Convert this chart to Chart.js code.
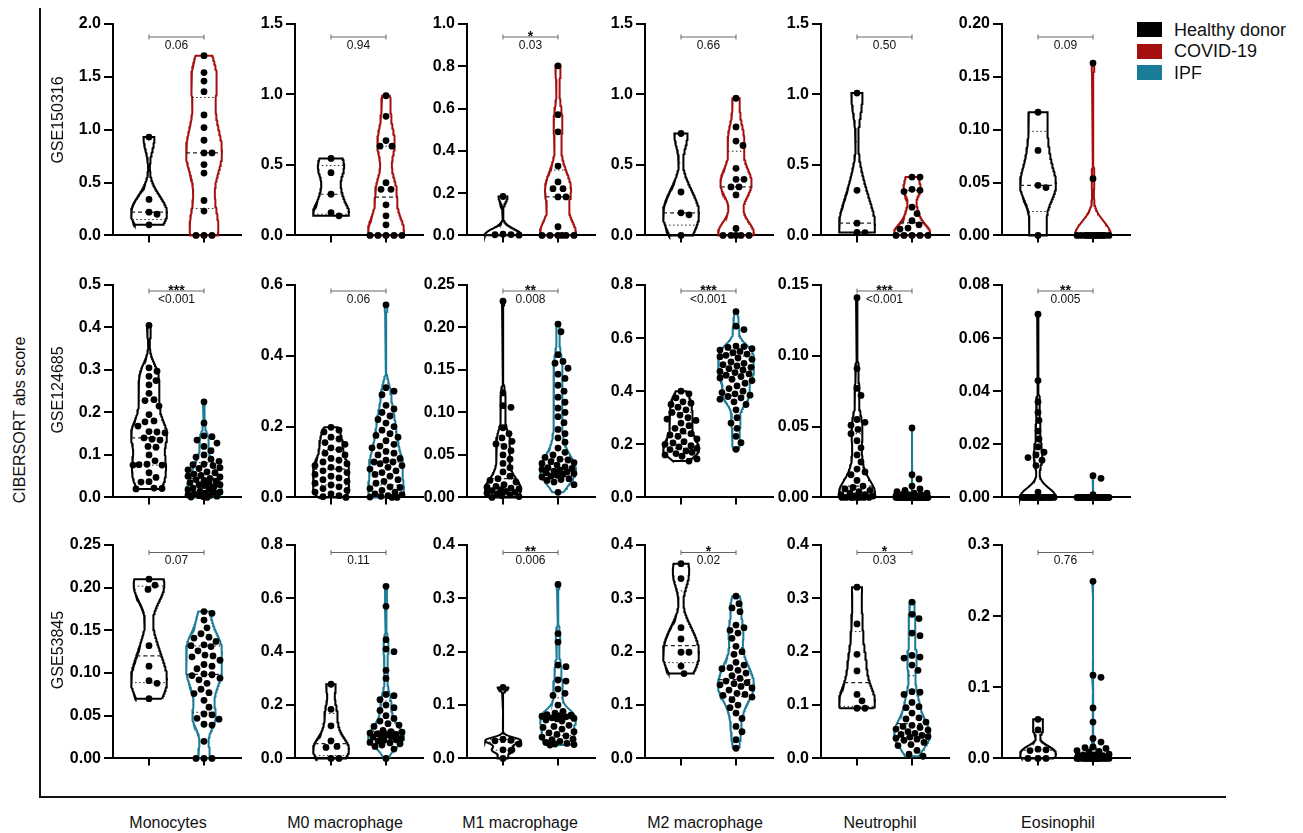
<!DOCTYPE html>
<html>
<head>
<meta charset="utf-8">
<title>CIBERSORT abs score - violin plots</title>
<script src="https://cdn.jsdelivr.net/npm/chart.js@4.4.1/dist/chart.umd.min.js"></script>
<style>
  html, body { margin: 0; padding: 0; background: #fff; }
  #page { position: relative; width: 1303px; height: 833px; overflow: hidden;
          font-family: "Liberation Sans", Arial, sans-serif; color: #111; }
  .panel { position: absolute; }
  .panel canvas { display: block; }
  .txt { position: absolute; white-space: nowrap; font-size: 16px; line-height: 18px; transform: translate(-50%, -50%); }
  .rot { transform: translate(-50%, -50%) rotate(-90deg); }
  .rule { position: absolute; background: #111; }
  .key { position: absolute; left: 1137px; width: 25px; height: 15px; }
  .keytxt { position: absolute; left: 1174px; font-size: 18px; white-space: nowrap; transform: translateY(-50%); }
</style>
</head>
<body>
<div id="page">
  <div class="rule" style="left:39px; top:8px; width:1.5px; height:790px;"></div>
  <div class="rule" style="left:39px; top:796px; width:1187px; height:1.5px;"></div>
  <div class="txt rot" style="left:20px; top:420px;">CIBERSORT abs score</div>
</div>
<script>
// ---- values ----
const CELL_TYPES = ['Monocytes', 'M0 macrophage', 'M1 macrophage', 'M2 macrophage', 'Neutrophil', 'Eosinophil'];
const COHORTS = ['GSE150316', 'GSE124685', 'GSE53845'];
const GROUP_NAMES = ['Healthy donor', 'COVID-19', 'IPF'];
const COHORT_DISEASE = [1, 2, 2];   // second violin of each row

const Y_MAX  = [[2.0, 1.5, 1.0, 1.5, 1.5, 0.20], [0.5, 0.6, 0.25, 0.8, 0.15, 0.08], [0.25, 0.8, 0.4, 0.4, 0.4, 0.3]];
const Y_STEP = [[0.5, 0.5, 0.2, 0.5, 0.5, 0.05], [0.1, 0.2, 0.05, 0.2, 0.05, 0.02], [0.05, 0.2, 0.1, 0.1, 0.1, 0.1]];
const Y_DEC  = [[1, 1, 1, 1, 1, 2], [1, 1, 2, 1, 2, 2], [2, 1, 1, 1, 1, 1]];

const P_VALUES = [['0.06', '0.94', '0.03', '0.66', '0.50', '0.09'],
                  ['<0.001', '0.06', '0.008', '<0.001', '<0.001', '0.005'],
                  ['0.07', '0.11', '0.006', '0.02', '0.03', '0.76']];
const STARS = [['', '', '*', '', '', ''],
               ['***', '', '**', '***', '***', '**'],
               ['', '', '**', '*', '*', '']];

// GSE150316: healthy donor n=5, COVID-19 n=16 (one list per cell type)
const GSE150316_HEALTHY = [
  [0.93, 0.34, 0.22, 0.20, 0.10],
  [0.546, 0.445, 0.292, 0.162, 0.139],
  [0.184, 0.006, 0.004, 0.003, 0.001],
  [0.723, 0.308, 0.160, 0.146, 0],
  [1.01, 0.32, 0.087, 0.021, 0.02],
  [0.1165, 0.0804, 0.0474, 0.0452, 0]
];
const GSE150316_COVID = [
  [1.70, 1.54, 1.46, 1.36, 1.14, 1.02, 0.90, 0.78, 0.78, 0.67, 0.59, 0.33, 0.23, 0, 0, 0],
  [0.991, 0.845, 0.673, 0.633, 0.633, 0.374, 0.327, 0.327, 0.217, 0.139, 0.075, 0, 0, 0, 0, 0],
  [0.802, 0.571, 0.49, 0.328, 0.253, 0.221, 0.221, 0.182, 0.182, 0.041, 0, 0, 0, 0, 0, 0],
  [0.973, 0.770, 0.669, 0.638, 0.476, 0.398, 0.398, 0.344, 0.344, 0.287, 0.049, 0, 0, 0, 0, 0],
  [0.414, 0.414, 0.327, 0.32, 0.311, 0.20, 0.155, 0.104, 0.075, 0.052, 0.045, 0, 0, 0, 0, 0],
  [0.163, 0.0537, 0, 0, 0, 0, 0, 0, 0, 0, 0, 0, 0, 0, 0, 0]
];
// GSE124685: healthy donor n=35, IPF n=49
const GSE124685_HEALTHY = [
  [0.405, 0.305, 0.297, 0.285, 0.275, 0.265, 0.245, 0.230, 0.228, 0.215, 0.195, 0.180, 0.178, 0.168, 0.155, 0.154, 0.152, 0.140,
   0.137, 0.135, 0.120, 0.118, 0.100, 0.086, 0.078, 0.077, 0.076, 0.076, 0.058, 0.047, 0.037, 0.036, 0.022, 0.021, 0.020],
  [0.198, 0.19, 0.185, 0.17, 0.165, 0.155, 0.15, 0.14, 0.135, 0.125, 0.12, 0.11, 0.105, 0.1, 0.095, 0.09, 0.085, 0.08,
   0.075, 0.07, 0.065, 0.06, 0.055, 0.05, 0.045, 0.04, 0.035, 0.03, 0.025, 0.02, 0.015, 0.01, 0.005, 0.002, 0],
  [0.231, 0.123, 0.108, 0.106, 0.082, 0.075, 0.07, 0.066, 0.063, 0.06, 0.055, 0.05, 0.045, 0.04, 0.035, 0.03, 0.025, 0.022,
   0.02, 0.018, 0.015, 0.013, 0.012, 0.011, 0.01, 0.009, 0.008, 0.007, 0.006, 0.005, 0.004, 0.003, 0.002, 0.001, 0],
  [0.40, 0.39, 0.375, 0.36, 0.355, 0.35, 0.34, 0.33, 0.32, 0.31, 0.30, 0.295, 0.29, 0.28, 0.27, 0.26, 0.25, 0.24,
   0.235, 0.23, 0.22, 0.21, 0.205, 0.20, 0.195, 0.19, 0.185, 0.18, 0.175, 0.17, 0.165, 0.16, 0.155, 0.145, 0.137],
  [0.141, 0.091, 0.077, 0.072, 0.055, 0.053, 0.051, 0.048, 0.045, 0.04, 0.035, 0.03, 0.025, 0.02, 0.018, 0.016, 0.012, 0.008,
   0.007, 0.006, 0.005, 0.004, 0.003, 0.002, 0.002, 0.001, 0.001, 0, 0, 0, 0, 0, 0, 0, 0],
  [0.069, 0.044, 0.036, 0.032, 0.029, 0.025, 0.022, 0.019, 0.017, 0.016, 0.015, 0.014, 0.012, 0.002,
   0, 0, 0, 0, 0, 0, 0, 0, 0, 0, 0, 0, 0, 0, 0, 0, 0, 0, 0, 0, 0]
];
const GSE124685_IPF = [
  [0.225, 0.175, 0.145, 0.143, 0.135, 0.128, 0.12, 0.11, 0.10, 0.095, 0.09, 0.085, 0.078, 0.077, 0.075, 0.07, 0.068,
   0.065, 0.06, 0.058, 0.055, 0.052, 0.05, 0.048, 0.045, 0.042, 0.04, 0.038, 0.035, 0.033, 0.03, 0.03, 0.028,
   0.025, 0.022, 0.02, 0.018, 0.015, 0.013, 0.012, 0.01, 0.008, 0.006, 0.005, 0.004, 0.003, 0.002, 0.001, 0],
  [0.544, 0.31, 0.30, 0.29, 0.26, 0.25, 0.24, 0.23, 0.22, 0.21, 0.20, 0.19, 0.18, 0.175, 0.17, 0.16, 0.15,
   0.145, 0.14, 0.13, 0.125, 0.12, 0.11, 0.105, 0.10, 0.10, 0.095, 0.09, 0.085, 0.08, 0.075, 0.07, 0.065,
   0.06, 0.05, 0.045, 0.04, 0.03, 0.028, 0.025, 0.02, 0.015, 0.01, 0.008, 0.005, 0.003, 0.001, 0, 0],
  [0.204, 0.195, 0.168, 0.16, 0.158, 0.152, 0.145, 0.14, 0.132, 0.125, 0.118, 0.112, 0.105, 0.1, 0.095, 0.088, 0.08,
   0.075, 0.07, 0.065, 0.058, 0.053, 0.05, 0.047, 0.045, 0.044, 0.042, 0.041, 0.04, 0.038, 0.036, 0.035, 0.034,
   0.033, 0.032, 0.031, 0.03, 0.029, 0.028, 0.027, 0.026, 0.025, 0.024, 0.022, 0.021, 0.02, 0.018, 0.015, 0.006],
  [0.70, 0.645, 0.632, 0.57, 0.568, 0.565, 0.56, 0.555, 0.55, 0.545, 0.54, 0.535, 0.53, 0.525, 0.52, 0.51, 0.505,
   0.5, 0.495, 0.49, 0.485, 0.48, 0.475, 0.47, 0.465, 0.46, 0.455, 0.45, 0.445, 0.44, 0.43, 0.42, 0.41,
   0.4, 0.395, 0.39, 0.385, 0.38, 0.375, 0.37, 0.36, 0.35, 0.33, 0.3, 0.28, 0.26, 0.23, 0.206, 0.181],
  [0.049, 0.016, 0.013, 0.008, 0.006, 0.005, 0.004, 0.003, 0.003, 0.002, 0.002, 0.002, 0.001, 0.001, 0.001, 0.001, 0.001,
   0, 0, 0, 0, 0, 0, 0, 0, 0, 0, 0, 0, 0, 0, 0, 0, 0, 0, 0, 0, 0, 0, 0, 0, 0, 0, 0, 0, 0, 0, 0, 0],
  [0.0082, 0.0072, 0.001, 0, 0, 0, 0, 0, 0, 0, 0, 0, 0, 0, 0, 0, 0, 0, 0, 0, 0, 0, 0, 0, 0,
   0, 0, 0, 0, 0, 0, 0, 0, 0, 0, 0, 0, 0, 0, 0, 0, 0, 0, 0, 0, 0, 0, 0, 0]
];
// GSE53845: healthy donor n=8, IPF n=40
const GSE53845_HEALTHY = [
  [0.210, 0.203, 0.198, 0.132, 0.108, 0.091, 0.088, 0.070],
  [0.278, 0.184, 0.122, 0.066, 0.045, 0.041, 0, 0],
  [0.133, 0.036, 0.034, 0.033, 0.027, 0.016, 0.015, 0],
  [0.365, 0.337, 0.245, 0.224, 0.199, 0.199, 0.173, 0.159],
  [0.321, 0.252, 0.195, 0.164, 0.120, 0.108, 0.094, 0.094],
  [0.055, 0.040, 0.013, 0.012, 0.011, 0, 0, 0]
];
const GSE53845_IPF = [
  [0.172, 0.170, 0.162, 0.153, 0.146, 0.142, 0.141, 0.137, 0.133, 0.132, 0.131, 0.126, 0.121, 0.120, 0.119, 0.115, 0.110, 0.108, 0.105, 0.099,
   0.098, 0.097, 0.094, 0.092, 0.088, 0.081, 0.077, 0.076, 0.068, 0.060, 0.052, 0.051, 0.047, 0.046, 0.040, 0.039, 0.020, 0, 0, 0],
  [0.645, 0.57, 0.445, 0.41, 0.40, 0.33, 0.30, 0.24, 0.235, 0.22, 0.2, 0.19, 0.18, 0.16, 0.15, 0.14, 0.13, 0.125, 0.12, 0.105,
   0.1, 0.098, 0.095, 0.092, 0.09, 0.088, 0.085, 0.082, 0.08, 0.075, 0.07, 0.068, 0.065, 0.06, 0.058, 0.055, 0.05, 0.045, 0.035, 0],
  [0.326, 0.234, 0.218, 0.175, 0.172, 0.147, 0.145, 0.13, 0.122, 0.118, 0.1, 0.088, 0.085, 0.082, 0.081, 0.080, 0.079, 0.078, 0.076, 0.075,
   0.074, 0.072, 0.07, 0.062, 0.06, 0.058, 0.055, 0.05, 0.048, 0.045, 0.042, 0.04, 0.036, 0.035, 0.032, 0.03, 0.028, 0.027, 0.026, 0.025],
  [0.304, 0.29, 0.282, 0.275, 0.25, 0.245, 0.24, 0.235, 0.225, 0.21, 0.2, 0.195, 0.18, 0.175, 0.17, 0.168, 0.165, 0.16, 0.155, 0.15,
   0.145, 0.142, 0.14, 0.138, 0.135, 0.132, 0.128, 0.122, 0.12, 0.118, 0.115, 0.11, 0.1, 0.095, 0.085, 0.075, 0.06, 0.05, 0.035, 0.019],
  [0.293, 0.27, 0.262, 0.235, 0.23, 0.193, 0.19, 0.188, 0.175, 0.165, 0.125, 0.124, 0.12, 0.105, 0.097, 0.095, 0.085, 0.076, 0.074, 0.068,
   0.062, 0.06, 0.058, 0.055, 0.053, 0.05, 0.047, 0.045, 0.043, 0.041, 0.04, 0.038, 0.036, 0.034, 0.03, 0.026, 0.024, 0.015, 0.008, 0.004],
  [0.249, 0.117, 0.114, 0.071, 0.051, 0.028, 0.023, 0.016, 0.015, 0.014, 0.011, 0.010, 0.009, 0.006, 0.005, 0.005, 0.004, 0.004, 0.003, 0.002,
   0.002, 0.001, 0.001, 0, 0, 0, 0, 0, 0, 0, 0, 0, 0, 0, 0, 0, 0, 0, 0, 0]
];
const COHORT_DATA = [
  [GSE150316_HEALTHY, GSE150316_COVID],
  [GSE124685_HEALTHY, GSE124685_IPF],
  [GSE53845_HEALTHY, GSE53845_IPF]
];

// ---- layout / style ----
const GROUP_COLORS = ['#000000', '#a50f0f', '#1b7c97'];
const COL_AXIS_X = [113, 295, 467, 645, 821, 1002];
const ROW_TOP_Y = [24, 285, 545];
const ROW_PLOT_H = [212, 213, 214];
const ROW_BRACKET_DY = [13, 6, 7.5];
const ROW_LABEL_Y = [120, 390, 650];
const CELL_LABEL_X = [168, 345, 520, 705, 880, 1058];
const Y_AXIS_W = 70, PLOT_W = 128, PAD_TOP = 14, X_AXIS_H = 12, PAD_RIGHT = 4;
const PX_PER_GROUP = 55;
const X_MIN = 1 - 36 / PX_PER_GROUP, X_MAX = 2 + 37 / PX_PER_GROUP;
const HALF_W = 18 / PX_PER_GROUP;     // widest violin half-width, in x units
const DOT_GAP = 8, SWARM_LIMIT = 16;  // px
const BW_FACTOR = 0.6;

Chart.defaults.font.family = '"Liberation Sans", Arial, sans-serif';

const page = document.getElementById('page');

// ---- small stats helpers ----
function quantile(sorted, p) {
  const n = sorted.length, pos = p * (n + 1);
  if (pos <= 1) return sorted[0];
  if (pos >= n) return sorted[n - 1];
  const i = Math.floor(pos), f = pos - i;
  return sorted[i - 1] + f * (sorted[i] - sorted[i - 1]);
}

function bandwidth(sorted) {
  const n = sorted.length;
  const mean = sorted.reduce((a, b) => a + b, 0) / n;
  const sd = Math.sqrt(sorted.reduce((a, b) => a + (b - mean) * (b - mean), 0) / (n - 1));
  const iqr = quantile(sorted, 0.75) - quantile(sorted, 0.25);
  const s = iqr > 0 ? Math.min(sd, iqr / 1.34) : sd;
  return BW_FACTOR * 0.9 * s * Math.pow(n, -0.2);
}

function kde(sorted, h, y) {
  let sum = 0;
  for (const v of sorted) { const z = (y - v) / h; sum += Math.exp(-0.5 * z * z); }
  return sum;
}

function violinShape(vals, center) {
  const s = [...vals].sort((a, b) => a - b);
  const lo = s[0], hi = s[s.length - 1];
  const h = bandwidth(s) || (hi - lo) / 20 || 1e-6;
  const M = 140, ys = [], dens = [];
  for (let i = 0; i <= M; i++) {
    const y = lo + (hi - lo) * i / M;
    ys.push(y);
    dens.push(kde(s, h, y));
  }
  const dmax = Math.max(...dens);
  const widthAt = y => HALF_W * kde(s, h, y) / dmax;
  const outline = [];
  for (let i = 0; i <= M; i++) outline.push({ x: center + HALF_W * dens[i] / dmax, y: ys[i] });
  for (let i = M; i >= 0; i--) outline.push({ x: center - HALF_W * dens[i] / dmax, y: ys[i] });
  outline.push(outline[0]);
  return {
    outline, widthAt,
    q1: quantile(s, 0.25), med: quantile(s, 0.5), q3: quantile(s, 0.75)
  };
}

function crossLine(shape, center, y, dash, width) {
  const w = shape.widthAt(y);
  return {
    data: [{ x: center - w, y }, { x: center + w, y }],
    showLine: true, borderColor: '#222', borderWidth: width, borderDash: dash,
    pointRadius: 0, clip: false, order: 1
  };
}

// spread the dots sideways so they do not sit on top of each other
function swarmPoints(chart, dsIndex, vals, center) {
  const xs = chart.scales.x, ys = chart.scales.y;
  const cx = xs.getPixelForValue(center);
  const idx = vals.map((_, i) => i).sort((a, b) => vals[b] - vals[a]);
  const placed = [], out = [];
  idx.forEach(i => {
    const py = ys.getPixelForValue(vals[i]);
    let pick = 0, bestGap = -1;
    for (let k = 0; k <= 2 * SWARM_LIMIT; k++) {
      const dx = k % 2 ? (k + 1) / 2 : -k / 2;
      let gap = Infinity;
      for (const p of placed) gap = Math.min(gap, Math.hypot(p[0] - dx, p[1] - py));
      if (gap >= DOT_GAP) { pick = dx; break; }
      if (gap > bestGap) { bestGap = gap; pick = dx; }
    }
    placed.push([pick, py]);
    out[i] = { x: xs.getValueForPixel(cx + pick), y: vals[i] };
  });
  chart.data.datasets[dsIndex].data = out;
}

// significance bracket + p value above each pair
const bracketPlugin = {
  id: 'sigBracket',
  afterDraw(chart, args, opts) {
    const { ctx, chartArea, scales } = chart;
    const x1 = scales.x.getPixelForValue(1), x2 = scales.x.getPixelForValue(2);
    const y = chartArea.top + opts.dy, mid = (x1 + x2) / 2;
    ctx.save();
    ctx.strokeStyle = '#666';
    ctx.lineWidth = 1;
    ctx.beginPath();
    ctx.moveTo(x1, y); ctx.lineTo(x2, y);
    ctx.moveTo(x1, y - 2.5); ctx.lineTo(x1, y + 2.5);
    ctx.moveTo(x2, y - 2.5); ctx.lineTo(x2, y + 2.5);
    ctx.stroke();
    ctx.fillStyle = '#111';
    ctx.textAlign = 'center';
    ctx.font = '12px "Liberation Sans", Arial, sans-serif';
    ctx.textBaseline = 'middle';
    ctx.fillText(opts.p, mid, y + 8.5);
    if (opts.stars) {
      ctx.font = 'bold 14px "Liberation Sans", Arial, sans-serif';
      ctx.textBaseline = 'alphabetic';
      ctx.fillText(opts.stars, mid, y + 3.5);
    }
    ctx.restore();
  }
};

function buildPanel(r, c) {
  const ymax = Y_MAX[r][c], step = Y_STEP[r][c], dec = Y_DEC[r][c];
  const tickVals = [];
  for (let k = 0; k * step <= ymax + 1e-9; k++) tickVals.push(+(k * step).toFixed(4));

  const plotH = ROW_PLOT_H[r];
  const W = Y_AXIS_W + PLOT_W + PAD_RIGHT, H = PAD_TOP + plotH + X_AXIS_H;
  const host = document.createElement('div');
  host.className = 'panel';
  host.style.left = (COL_AXIS_X[c] - Y_AXIS_W) + 'px';
  host.style.top = (ROW_TOP_Y[r] - PAD_TOP) + 'px';
  const cv = document.createElement('canvas');
  cv.width = W; cv.height = H;
  cv.style.width = W + 'px'; cv.style.height = H + 'px';
  host.appendChild(cv);
  page.appendChild(host);

  const groupIdx = [0, COHORT_DISEASE[r]];
  const series = COHORT_DATA[r].map(g => g[c]);
  const datasets = [], dotSets = [];
  series.forEach((vals, gi) => {
    const center = gi + 1;
    const shape = violinShape(vals, center);
    dotSets.push([datasets.length, vals, center]);
    datasets.push({
      data: vals.map(y => ({ x: center, y })),
      pointRadius: 3.4, pointBackgroundColor: '#000', pointBorderWidth: 0,
      showLine: false, clip: false, order: 0
    });
    datasets.push(crossLine(shape, center, shape.med, [4, 3], 1.2));
    datasets.push(crossLine(shape, center, shape.q1, [1.5, 2.5], 1));
    datasets.push(crossLine(shape, center, shape.q3, [1.5, 2.5], 1));
    datasets.push({
      data: shape.outline, showLine: true, borderColor: GROUP_COLORS[groupIdx[gi]],
      borderWidth: 2, pointRadius: 0, tension: 0, clip: false, order: 2
    });
  });

  const chart = new Chart(cv, {
    type: 'scatter',
    data: { datasets },
    options: {
      responsive: false,
      animation: false,
      events: [],
      layout: { padding: { top: PAD_TOP, right: PAD_RIGHT, left: 0, bottom: 0 } },
      plugins: {
        legend: { display: false },
        tooltip: { enabled: false },
        sigBracket: { dy: ROW_BRACKET_DY[r], p: P_VALUES[r][c], stars: STARS[r][c] }
      },
      scales: {
        x: {
          type: 'linear', min: X_MIN, max: X_MAX,
          afterBuildTicks: s => { s.ticks = [{ value: 1 }, { value: 2 }]; },
          afterFit: s => { s.height = X_AXIS_H; },
          ticks: { display: false },
          grid: { drawOnChartArea: false, drawTicks: true, tickLength: 7, color: '#000', lineWidth: 2 },
          border: { display: true, color: '#000', width: 2 }
        },
        y: {
          type: 'linear', min: 0, max: ymax,
          afterBuildTicks: s => { s.ticks = tickVals.map(v => ({ value: v })); },
          afterFit: s => { s.width = Y_AXIS_W; },
          ticks: {
            autoSkip: false, color: '#000', padding: 3,
            font: { size: 16, weight: 'bold' },
            callback: v => Number(v).toFixed(dec)
          },
          grid: { drawOnChartArea: false, drawTicks: true, tickLength: 9, color: '#000', lineWidth: 2 },
          border: { display: true, color: '#000', width: 2 }
        }
      }
    },
    plugins: [bracketPlugin]
  });

  dotSets.forEach(([k, vals, center]) => swarmPoints(chart, k, vals, center));
  chart.update('none');
}

for (let r = 0; r < COHORTS.length; r++) {
  for (let c = 0; c < CELL_TYPES.length; c++) buildPanel(r, c);
}

// ---- text around the grid ----
COHORTS.forEach((name, r) => {
  const d = document.createElement('div');
  d.className = 'txt rot';
  d.style.left = '58px';
  d.style.top = ROW_LABEL_Y[r] + 'px';
  d.textContent = name;
  page.appendChild(d);
});
CELL_TYPES.forEach((name, c) => {
  const d = document.createElement('div');
  d.className = 'txt';
  d.style.left = CELL_LABEL_X[c] + 'px';
  d.style.top = '823px';
  d.textContent = name;
  page.appendChild(d);
});
GROUP_NAMES.forEach((name, i) => {
  const sw = document.createElement('div');
  sw.className = 'key';
  sw.style.top = (22 + i * 21.5) + 'px';
  sw.style.background = GROUP_COLORS[i];
  page.appendChild(sw);
  const t = document.createElement('div');
  t.className = 'keytxt';
  t.style.top = (29.5 + i * 21.5) + 'px';
  t.textContent = name;
  page.appendChild(t);
});
</script>
</body>
</html>
